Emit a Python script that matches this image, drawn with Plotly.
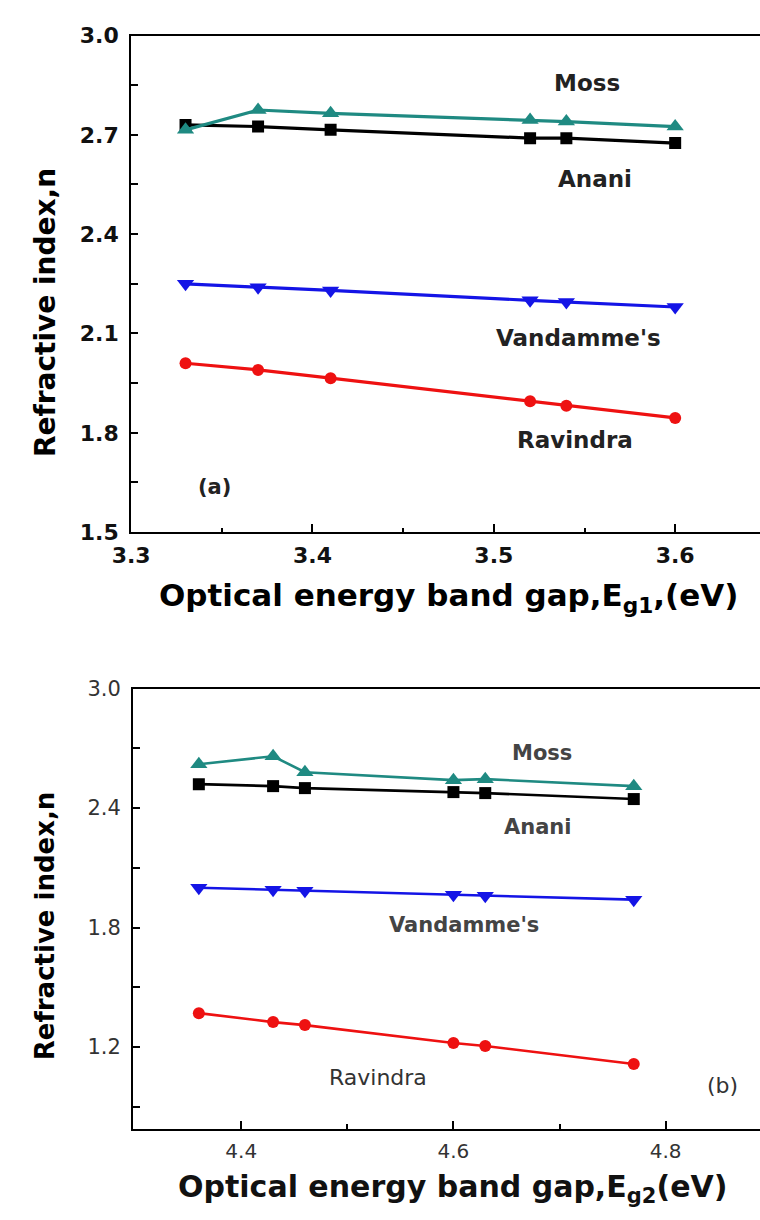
import plotly.graph_objects as go

# ---- data: panel (a) ----
eg1 = [3.33, 3.37, 3.41, 3.52, 3.54, 3.60]
moss_a = [2.715, 2.775, 2.765, 2.745, 2.74, 2.725]
anani_a = [2.73, 2.725, 2.715, 2.69, 2.69, 2.675]
vandamme_a = [2.25, 2.24, 2.23, 2.20, 2.195, 2.18]
ravindra_a = [2.01, 1.99, 1.965, 1.895, 1.882, 1.845]

# ---- data: panel (b) ----
eg2 = [4.36, 4.43, 4.46, 4.60, 4.63, 4.77]
moss_b = [2.62, 2.66, 2.58, 2.54, 2.545, 2.51]
anani_b = [2.52, 2.51, 2.50, 2.48, 2.475, 2.445]
vandamme_b = [2.00, 1.99, 1.985, 1.965, 1.96, 1.94]
ravindra_b = [1.37, 1.325, 1.31, 1.22, 1.205, 1.115]

ticks_a_y = [1.5, 1.8, 2.1, 2.4, 2.7, 3.0]
ticks_a_x = [3.3, 3.4, 3.5, 3.6]
ticks_b_y = [1.2, 1.8, 2.4, 3.0]
ticks_b_x = [4.4, 4.6, 4.8]

TEAL = "#1f8a82"
BLUE = "#1414e6"
RED = "#ee1111"
BLACK = "#000000"
FONT = "DejaVu Sans"

fig = go.Figure()

def add_series(x, y, color, symbol, size, xa, ya, lw):
    fig.add_trace(go.Scatter(
        x=x, y=y, mode="lines+markers", xaxis=xa, yaxis=ya,
        line=dict(color=color, width=lw),
        marker=dict(color=color, symbol=symbol, size=size),
        showlegend=False))

add_series(eg1, ravindra_a, RED, "circle", 12, "x", "y", 3.2)
add_series(eg1, vandamme_a, BLUE, "triangle-down", 15, "x", "y", 3.2)
add_series(eg1, anani_a, BLACK, "square", 12, "x", "y", 3.2)
add_series(eg1, moss_a, TEAL, "triangle-up", 15, "x", "y", 3.2)

add_series(eg2, ravindra_b, RED, "circle", 12, "x2", "y2", 2.6)
add_series(eg2, vandamme_b, BLUE, "triangle-down", 15, "x2", "y2", 2.6)
add_series(eg2, anani_b, BLACK, "square", 12, "x2", "y2", 2.6)
add_series(eg2, moss_b, TEAL, "triangle-up", 15, "x2", "y2", 2.6)

W, H = 760, 1220

def px_x(p):
    return p / W

def px_y(p):
    return 1 - p / H

axis_common = dict(showgrid=False, zeroline=False, showline=True, linecolor="black",
                   linewidth=2, ticks="inside", tickcolor="black", tickwidth=1.5)

fig.update_layout(
    width=W, height=H, margin=dict(l=0, r=0, t=0, b=0),
    plot_bgcolor="white", paper_bgcolor="white",
    font=dict(family=FONT, color="black"),
    xaxis=dict(axis_common, domain=[px_x(115), 1], range=[3.3, 3.3 + 645 / 1860],
               tickvals=ticks_a_x, ticktext=[f"{v:.1f}" for v in ticks_a_x], ticklen=8,
               mirror=True, anchor="y", ticklabelstandoff=2,
               minor=dict(tickvals=[3.35, 3.45, 3.55], ticklen=4, tickcolor="black", ticks="inside"),
               tickfont=dict(size=22, family=FONT, weight="bold", color="#111111")),
    yaxis=dict(axis_common, domain=[px_y(531), px_y(24)], range=[1.5, 3.0],
               tickvals=ticks_a_y, ticktext=[f"{v:.1f}" for v in ticks_a_y], ticklen=7,
               anchor="x", ticklabelstandoff=6,
               minor=dict(tickvals=[1.65, 1.95, 2.25, 2.55, 2.85], ticklen=7, tickcolor="black", ticks="inside"),
               tickfont=dict(size=22, family=FONT, weight="bold", color="#111111")),
    xaxis2=dict(axis_common, domain=[px_x(117), 1], range=[4.298, 4.889],
                tickvals=ticks_b_x, ticktext=[f"{v:.1f}" for v in ticks_b_x], ticklen=8,
                mirror=True, anchor="y2", ticklabelstandoff=3,
                minor=dict(tickvals=[4.5, 4.7], ticklen=5, tickcolor="black", ticks="inside"),
                tickfont=dict(size=20, family=FONT, color="#333333")),
    yaxis2=dict(axis_common, domain=[px_y(1140), px_y(690.7)], range=[0.79, 3.0],
                tickvals=ticks_b_y, ticktext=[f"{v:.1f}" for v in ticks_b_y], ticklen=7,
                anchor="x2", ticklabelstandoff=6,
                minor=dict(tickvals=[0.9, 1.5, 2.1, 2.7], ticklen=7, tickcolor="black", ticks="inside"),
                tickfont=dict(size=21, family=FONT, color="#333333")),
)

annotations = []

def ann(text, x, y, size, bold=False, color="black", rot=0):
    annotations.append(dict(
        text=text, x=px_x(x), y=px_y(y), xref="paper", yref="paper",
        showarrow=False, xanchor="center", yanchor="middle", textangle=rot,
        font=dict(size=size, color=color, family=FONT,
                  weight="bold" if bold else "normal")))

# panel (a) labels
ann("Moss", 583, 72, 23, bold=True, color="#222222")
ann("Anani", 591, 171, 23, bold=True, color="#222222")
ann("Vandamme's", 574, 333, 23, bold=True, color="#222222")
ann("Ravindra", 570, 437, 23, bold=True, color="#222222")
ann("(a)", 201, 485, 21, bold=True, color="#222222")
ann("Optical energy band gap,E<sub>g1</sub>,(eV)", 440, 598, 31, bold=True)
ann("Refractive index,n", 27, 307, 28, bold=True, rot=-90)

# panel (b) labels
ann("Moss", 536, 757, 21, bold=True, color="#444444")
ann("Anani", 532, 832, 21, bold=True, color="#444444")
ann("Vandamme's", 456, 932, 21, bold=True, color="#444444")
ann("Ravindra", 368, 1088, 22, color="#333333")
ann("(b)", 722, 1096, 22, color="#333333")
ann("Optical energy band gap,E<sub>g2</sub>(eV)", 445, 1201, 30, bold=True, color="#111111")
ann("Refractive index,n", 27, 933, 26, bold=True, rot=-90)

fig.update_layout(annotations=annotations)

fig.write_html("out.html")
